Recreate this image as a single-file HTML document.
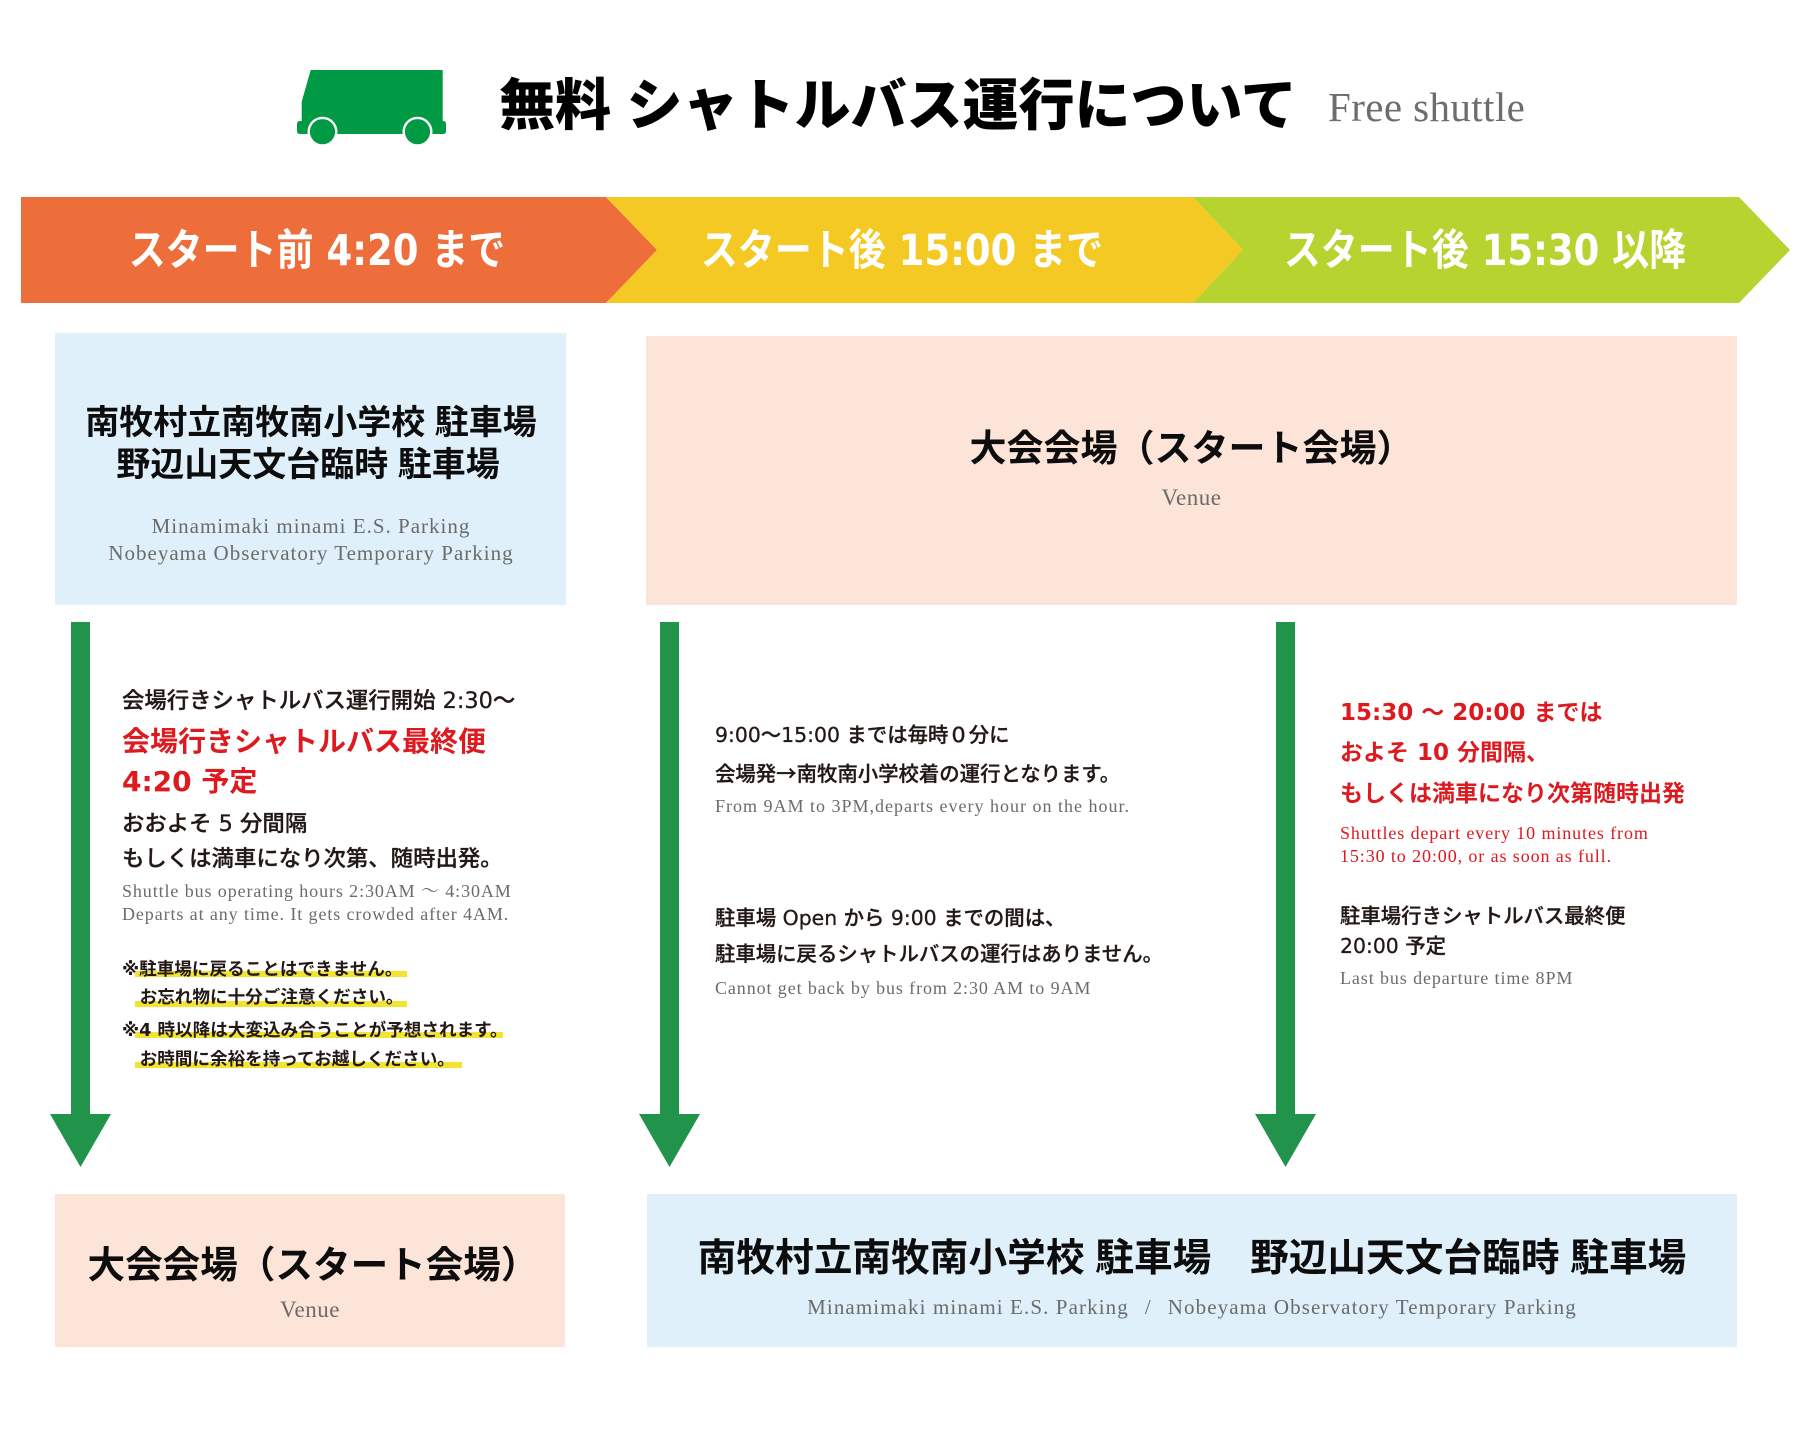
<!DOCTYPE html>
<html><head><meta charset="utf-8">
<style>
html,body{margin:0;padding:0;background:#fff;}
body{width:1800px;height:1442px;position:relative;overflow:hidden;font-family:"Liberation Sans","Noto Sans CJK JP",sans-serif;color:#231815;}
.a{position:absolute;white-space:nowrap;}
.s{font-family:"Liberation Serif","Noto Serif CJK SC",serif;color:#6b6b6b;}
.d{font-family:"DejaVu Sans","Noto Sans CJK JP",sans-serif;}
.c{text-align:center;}
.t{font-weight:bold;color:#0d0d0d;}
.b20{font-size:20.4px;line-height:30px;height:30px;font-weight:500;-webkit-text-stroke:0.3px #231815;}
.b22{font-size:22.4px;line-height:32px;height:32px;font-weight:500;-webkit-text-stroke:0.3px #231815;}
.r28{font-size:28px;line-height:36px;height:36px;font-weight:bold;color:#dc1a1f;}
.r23{font-size:23px;line-height:32px;height:32px;font-weight:bold;color:#dc1a1f;}
.e18{font-size:18px;line-height:22px;height:22px;letter-spacing:0.9px;}
.n17{font-size:17.6px;line-height:28px;height:28px;font-weight:bold;}
.w{color:#fff;font-weight:bold;font-size:43px;line-height:50px;height:50px;transform:scaleX(0.86);transform-origin:center;}
.ar{font-family:"Noto Sans CJK JP",sans-serif;}
</style></head><body>
<svg class="a" style="left:0;top:0" width="1800" height="1442" viewBox="0 0 1800 1442">
  <!-- truck -->
  <path d="M310.7,70 L442.7,70 L442.7,121 L443,121 Q446,121 446,124 L446,131 Q446,134 443,134 L300,134 Q297,134 297,131 L297,124 Q297,121 300,121 L301.7,121 L301.7,101.7 Z" fill="#009a44"/>
  <circle cx="322.5" cy="131.7" r="15" fill="#fff"/>
  <circle cx="417.5" cy="131.7" r="15" fill="#fff"/>
  <circle cx="322.5" cy="131.7" r="12.6" fill="#009a44"/>
  <circle cx="417.5" cy="131.7" r="12.6" fill="#009a44"/>
  <!-- banner -->
  <polygon points="21,197 606,197 657,250 606,303 21,303" fill="#ed6e3a"/>
  <polygon points="606,197 1193,197 1243,250 1193,303 606,303 657,250" fill="#f5c923"/>
  <polygon points="1193,197 1739,197 1790,250 1739,303 1193,303 1243,250" fill="#b6d330"/>
  <!-- boxes -->
  <rect x="55" y="333" width="511" height="272" fill="#dff0fa"/>
  <rect x="646" y="336" width="1091" height="269" fill="#fce4d8"/>
  <rect x="55" y="1194" width="510" height="153" fill="#fce4d8"/>
  <rect x="647" y="1194" width="1090" height="153" fill="#dff0fa"/>
  <!-- arrows -->
  <rect x="71" y="622" width="19" height="494" fill="#22934a"/>
  <polygon points="50,1114 111,1114 80.5,1167" fill="#22934a"/>
  <rect x="660" y="622" width="19" height="494" fill="#22934a"/>
  <polygon points="639,1114 700,1114 669.5,1167" fill="#22934a"/>
  <rect x="1276" y="622" width="19" height="494" fill="#22934a"/>
  <polygon points="1255,1114 1316,1114 1285.5,1167" fill="#22934a"/>
  <!-- highlight bars -->
  <rect x="135" y="971" width="272" height="6" fill="#f3e42f"/>
  <rect x="135" y="1001" width="272" height="6" fill="#f3e42f"/>
  <rect x="135" y="1032" width="368" height="6" fill="#f3e42f"/>
  <rect x="135" y="1062" width="327" height="6" fill="#f3e42f"/>
</svg>

<!-- title -->
<div class="a" style="left:499px;top:71px;font-size:56px;line-height:70px;font-weight:900;color:#000;">無料 シャトルバス運行について</div>
<div class="a s" style="left:1328px;top:82px;font-size:41px;line-height:50px;letter-spacing:0.4px;color:#6d6d6d;">Free shuttle</div>

<!-- banner text -->
<div class="a w c d" style="left:17px;top:226px;width:600px;">スタート前 4:20 まで</div>
<div class="a w c d" style="left:602px;top:226px;width:600px;">スタート後 15:00 まで</div>
<div class="a w c d" style="left:1185px;top:226px;width:600px;">スタート後 15:30 以降</div>

<!-- top-left box -->
<div class="a t c" style="left:61px;top:401px;width:500px;font-size:34px;line-height:44px;">南牧村立南牧南小学校 駐車場</div>
<div class="a t c" style="left:58px;top:443px;width:500px;font-size:34px;line-height:44px;">野辺山天文台臨時 駐車場</div>
<div class="a s c" style="left:61px;top:513px;width:500px;font-size:21px;line-height:26px;letter-spacing:1px;">Minamimaki minami E.S. Parking</div>
<div class="a s c" style="left:61px;top:540px;width:500px;font-size:21px;line-height:26px;letter-spacing:1px;">Nobeyama Observatory Temporary Parking</div>

<!-- top-right box -->
<div class="a t c" style="left:646px;top:424px;width:1091px;font-size:37px;line-height:50px;">大会会場（スタート会場）</div>
<div class="a s c" style="left:646px;top:483px;width:1091px;font-size:23px;line-height:30px;letter-spacing:0.5px;">Venue</div>

<!-- left column -->
<div class="a b22 d" style="left:122px;top:685px;">会場行きシャトルバス運行開始 2:30〜</div>
<div class="a r28 d" style="left:122px;top:724px;">会場行きシャトルバス最終便</div>
<div class="a r28 d" style="left:122px;top:764px;">4:20 予定</div>
<div class="a b22 d" style="left:122px;top:808px;">おおよそ 5 分間隔</div>
<div class="a b22 d" style="left:122px;top:843px;">もしくは満車になり次第、随時出発。</div>
<div class="a s e18" style="left:122px;top:880px;">Shuttle bus operating hours 2:30AM 〜 4:30AM</div>
<div class="a s e18" style="left:122px;top:903px;">Departs at any time. It gets crowded after 4AM.</div>
<div class="a n17 d" style="left:122px;top:956px;">※駐車場に戻ることはできません。</div>
<div class="a n17 d" style="left:122px;top:984px;">　お忘れ物に十分ご注意ください。</div>
<div class="a n17 d" style="left:122px;top:1017px;">※4 時以降は大変込み合うことが予想されます。</div>
<div class="a n17 d" style="left:122px;top:1046px;">　お時間に余裕を持ってお越しください。</div>

<!-- middle column -->
<div class="a b20 d" style="left:715px;top:720px;">9:00〜15:00 までは毎時０分に</div>
<div class="a b20 d" style="left:715px;top:757px;">会場発<span class="ar">→</span>南牧南小学校着の運行となります。</div>
<div class="a s e18" style="left:715px;top:795px;letter-spacing:1px;">From 9AM to 3PM,departs every hour on the hour.</div>
<div class="a b20 d" style="left:715px;top:903px;">駐車場 Open から 9:00 までの間は、</div>
<div class="a b20 d" style="left:715px;top:939px;">駐車場に戻るシャトルバスの運行はありません。</div>
<div class="a s e18" style="left:715px;top:977px;">Cannot get back by bus from 2:30 AM to 9AM</div>

<!-- right column -->
<div class="a r23 d" style="left:1340px;top:697px;">15:30 〜 20:00 までは</div>
<div class="a r23 d" style="left:1340px;top:737px;">およそ 10 分間隔、</div>
<div class="a r23 d" style="left:1340px;top:778px;">もしくは満車になり次第随時出発</div>
<div class="a s e18" style="left:1340px;top:822px;color:#dc1a1f;">Shuttles depart every 10 minutes from</div>
<div class="a s e18" style="left:1340px;top:845px;color:#dc1a1f;">15:30 to 20:00, or as soon as full.</div>
<div class="a b20 d" style="left:1340px;top:901px;">駐車場行きシャトルバス最終便</div>
<div class="a b20 d" style="left:1340px;top:931px;">20:00 予定</div>
<div class="a s e18" style="left:1340px;top:967px;">Last bus departure time 8PM</div>

<!-- bottom-left box -->
<div class="a t c" style="left:58px;top:1240px;width:510px;font-size:37.6px;line-height:50px;">大会会場（スタート会場）</div>
<div class="a s c" style="left:55px;top:1295px;width:510px;font-size:23px;line-height:30px;letter-spacing:0.5px;">Venue</div>

<!-- bottom-right box -->
<div class="a t c" style="left:647px;top:1234px;width:1090px;font-size:38.7px;line-height:50px;">南牧村立南牧南小学校 駐車場　野辺山天文台臨時 駐車場</div>
<div class="a s c" style="left:647px;top:1294px;width:1090px;font-size:21px;line-height:26px;letter-spacing:1.1px;">Minamimaki minami E.S. Parking<span style="margin:0 16px;">/</span>Nobeyama Observatory Temporary Parking</div>
</body></html>
